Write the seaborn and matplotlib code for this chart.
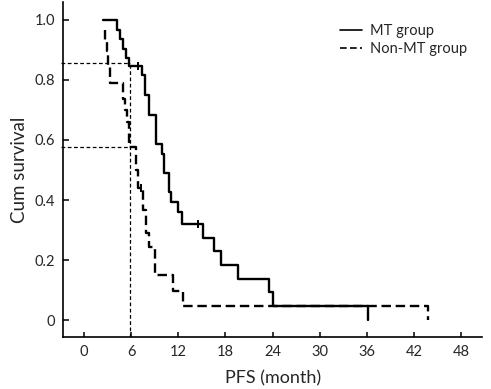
import numpy as np
import pandas as pd
import seaborn as sns
import matplotlib.pyplot as plt

# Kaplan-Meier steps (month, cum survival after the step)
mt_time = [2.46, 4.16, 4.6, 4.9, 5.3, 5.75, 7.35, 7.7, 8.2, 9.15, 9.9, 10.15, 10.75, 11.1, 11.9, 12.5,
           15.2, 16.5, 17.4, 19.6, 23.5, 24.1, 36.1, 36.1]
mt_surv = [1.0, 0.967, 0.935, 0.902, 0.872, 0.848, 0.818, 0.75, 0.684, 0.588, 0.553, 0.489, 0.428, 0.395,
           0.36, 0.321, 0.275, 0.229, 0.183, 0.137, 0.093, 0.047, 0.047, 0.0]
nonmt_time = [2.6, 2.6, 2.9, 3.05, 3.3, 5.0, 5.15, 5.5, 5.7, 6.6, 6.9, 7.55, 7.9, 8.2, 9.0, 11.3, 12.6,
              43.8, 43.8]
nonmt_surv = [0.965, 0.93, 0.895, 0.842, 0.789, 0.737, 0.70, 0.66, 0.578, 0.50, 0.44, 0.367, 0.29, 0.245,
              0.151, 0.098, 0.048, 0.048, 0.0]

# censored cases
mt_cens_time = [6.9, 14.5]
mt_cens_surv = [0.848, 0.321]
nonmt_cens_time = [7.3]
nonmt_cens_surv = [0.44]

# survival rates marked at 6 months
ref_time = 5.8
ref_surv = [0.855, 0.578]

xticks = [0, 6, 12, 18, 24, 30, 36, 42, 48]
yticks = [0, 0.2, 0.4, 0.6, 0.8, 1.0]
ytick_labels = ["0", "0.2", "0.4", "0.6", "0.8", "1.0"]

sns.set_style("ticks")
plt.rcParams['font.family'] = ['Lato', 'DejaVu Sans']

fig = plt.figure(figsize=(4.91, 3.89), dpi=100)
ax = fig.add_axes([0.129, 0.134, 0.853, 0.861])

mt = pd.DataFrame({'month': mt_time, 'surv': mt_surv})
nonmt = pd.DataFrame({'month': nonmt_time, 'surv': nonmt_surv})

sns.lineplot(data=mt, x='month', y='surv', ax=ax, color='black', lw=1.7,
             drawstyle='steps-post', estimator=None, sort=False, label='MT group')
sns.lineplot(data=nonmt, x='month', y='surv', ax=ax, color='black', lw=1.7,
             linestyle=(0, (4, 2)), drawstyle='steps-post', estimator=None, sort=False,
             label='Non-MT group')

sns.scatterplot(x=mt_cens_time, y=mt_cens_surv, ax=ax, marker='|', s=35, color='black', linewidth=1.4)
sns.scatterplot(x=nonmt_cens_time, y=nonmt_cens_surv, ax=ax, marker='|', s=35, color='black', linewidth=1.4)

# reference lines
xmin, xmax = -2.64, 50.67
ymin, ymax = -0.056, 1.06
for s in ref_surv:
    ax.plot([-2.9, ref_time], [s, s], color='black', lw=0.9, ls=(0, (3, 2)), clip_on=False)
ax.plot([ref_time, ref_time], [ymin, max(ref_surv)], color='black', lw=0.9, ls=(0, (3, 2)))

ax.set_xlim(xmin, xmax)
ax.set_ylim(ymin, ymax)
ax.set_xticks(xticks)
ax.set_yticks(yticks)
ax.set_yticklabels(ytick_labels)
ax.tick_params(axis='both', direction='in', labelsize=10.5, width=1.1, color='black')
ax.tick_params(axis='y', length=4.5, pad=6)
ax.tick_params(axis='x', length=3.5, pad=6)
for sp in ['left', 'bottom']:
    ax.spines[sp].set_linewidth(1.2)
    ax.spines[sp].set_color('black')
sns.despine(ax=ax)

ax.set_xlabel('PFS (month)', fontsize=13, labelpad=8)
ax.set_ylabel('Cum survival', fontsize=13.5, labelpad=5)

leg = ax.legend(loc='upper left', bbox_to_anchor=(0.665, 0.972), bbox_transform=fig.transFigure,
                frameon=False, fontsize=10.5, handlelength=1.55, handletextpad=0.55,
                labelspacing=0.3)
for h in leg.get_lines():
    h.set_linewidth(1.2)

fig.savefig('out.png', dpi=100)
